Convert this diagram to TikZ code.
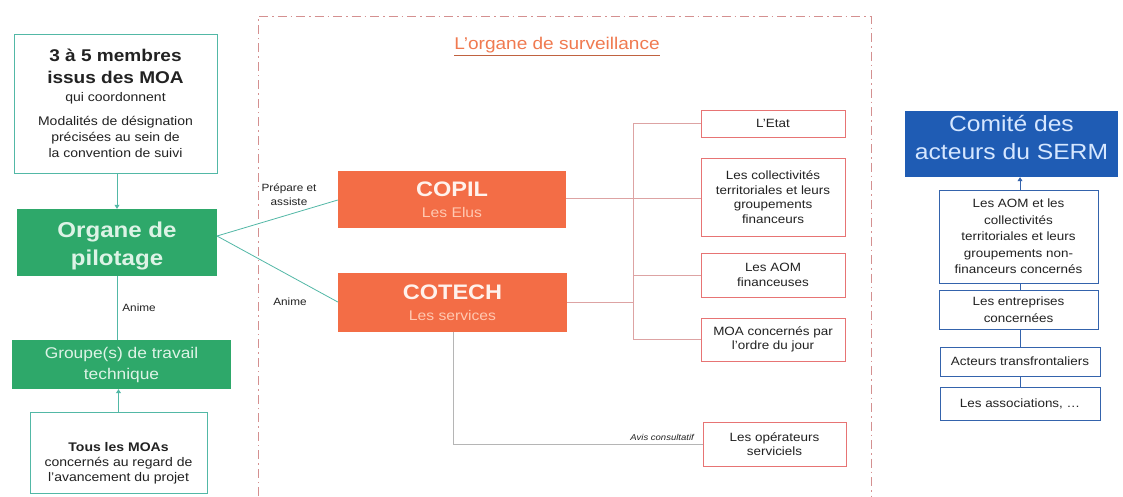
\documentclass[tikz,border=0pt]{standalone}
\usepackage{fontspec}
\setmainfont{Liberation Sans}[FakeStretch=1.12]
\usetikzlibrary{arrows.meta}
\definecolor{tealb}{HTML}{52B8A6}
\definecolor{greenf}{HTML}{2EA86A}
\definecolor{greent}{HTML}{DDF3E6}
\definecolor{orangef}{HTML}{F36D46}
\definecolor{oranget}{HTML}{FFF2EC}
\definecolor{orangel}{HTML}{FFC9B2}
\definecolor{pinkb}{HTML}{E77474}
\definecolor{pinkl}{HTML}{DDA3A3}
\definecolor{greyl}{HTML}{B5B5B5}
\definecolor{titlec}{HTML}{F07A50}
\definecolor{bluef}{HTML}{1F5CB4}
\definecolor{bluet}{HTML}{D6E7FF}
\definecolor{blueb}{HTML}{3463AC}
\definecolor{framec}{HTML}{D49090}
\definecolor{txt}{HTML}{222222}
\newcommand\fsz[2]{\fontsize{#1}{#2}\selectfont}
\begin{document}
\begin{tikzpicture}[x=1pt,y=-1pt,
  every node/.style={inner sep=0pt, align=center, text=txt},
  tealbox/.style={draw=tealb, line width=1pt, fill=white},
  greenbox/.style={fill=greenf, text=greent},
  orangebox/.style={fill=orangef, text=oranget},
  pinkbox/.style={draw=pinkb, line width=0.9pt, fill=white, font=\fsz{12}{14.5}},
  bluebox/.style={draw=blueb, line width=0.9pt, fill=white, font=\fsz{12}{16.5}},
  tealline/.style={draw=tealb, line width=0.8pt},
  pinkline/.style={draw=pinkl, line width=0.7pt},
  greyline/.style={draw=greyl, line width=0.7pt},
  blueline/.style={draw=blueb, line width=0.8pt},
  arrowtip/.style={-{Triangle[width=5pt,length=4pt]}},
  lbl/.style={font=\fsz{10.5}{14}}
]
\useasboundingbox (0,0) rectangle (1123,496);
\fill[white] (0,0) rectangle (1123,496);

% surveillance frame
\draw[framec, line width=0.8pt, dash pattern=on 9pt off 4pt on 1.5pt off 4pt]
  (258,496) -- (258,16) -- (871,16) -- (871,496);
\node[text=titlec, font=\fsz{17}{20}] (title) at (557,45) {L'organe de surveillance};
\draw[draw=titlec!80!black, line width=0.8pt] ([yshift=-2pt]title.south west) -- ([yshift=-2pt]title.south east);

% left column
\node[tealbox, minimum width=203pt, minimum height=139pt, font=\fsz{12.5}{16}] (b1) at (115.5,103.5)
  {\fsz{17}{21}\bfseries 3 à 5 membres\\[6pt]
   \fsz{17}{21}\bfseries issus des MOA\\[2pt]
   qui coordonnent\\[8pt]
   Modalités de désignation\\
   précisées au sein de\\
   la convention de suivi};
\node[greenbox, minimum width=200pt, minimum height=67pt, font=\fsz{21.5}{28}\bfseries] (org) at (117,242.5) {\rule{0pt}{23pt}Organe de\\ pilotage};
\node[greenbox, minimum width=219pt, minimum height=49pt, font=\fsz{15.5}{21}] (grp) at (121.5,364.5) {Groupe(s) de travail\\ technique};
\node[tealbox, minimum width=177pt, minimum height=81pt, font=\fsz{12.5}{15}] (tous) at (118.5,452.5)
  {\rule{0pt}{30pt}\bfseries Tous les MOAs\\ concernés au regard de\\ l'avancement du projet};

\draw[tealline, arrowtip] (org.north |- b1.south) -- (org.north);
\draw[tealline] (org.south) -- node[lbl, right=5pt] {Anime} (org.south |- grp.north);
\draw[tealline, arrowtip] (tous.north) -- (tous.north |- grp.south);

% COPIL / COTECH
\node[orangebox, minimum width=228pt, minimum height=57pt, font=\fsz{14}{21}] (copil) at (452,199.5)
  {\fsz{21}{24}\bfseries COPIL\\ \color{orangel}Les Elus};
\node[orangebox, minimum width=229pt, minimum height=59pt, font=\fsz{14}{21}] (cotech) at (452.5,302.5)
  {\fsz{21}{24}\bfseries COTECH\\ \color{orangel}Les services};

\coordinate (oe) at (217,236);
\draw[tealline] (oe) -- (copil.west |- 0,200);
\draw[tealline] (oe) -- (cotech.west |- 0,302);
\node[lbl] (lprep) at (289,195) {Prépare et\\ assiste};
\node[lbl] (lanime) at (290,302) {Anime};

% member boxes
\node[pinkbox, minimum width=144pt, minimum height=27pt] (etat) at (773,123.5) {L'Etat};
\node[pinkbox, minimum width=144pt, minimum height=78pt] (coll) at (773,197) {Les collectivités\\ territoriales et leurs\\ groupements\\ financeurs};
\node[pinkbox, minimum width=144pt, minimum height=44pt] (aom) at (773,275) {Les AOM\\ financeuses};
\node[pinkbox, minimum width=144pt, minimum height=43pt] (moa) at (773,339.5) {MOA concernés par\\ l'ordre du jour};
\node[pinkbox, minimum width=143pt, minimum height=44pt] (oper) at (774.5,444) {Les opérateurs\\ serviciels};

\coordinate (trunkt) at (633,123.5);
\coordinate (trunkb) at (633,339.5);
\draw[pinkline] (trunkt) -- (trunkb);
\draw[pinkline] (trunkt) -- (etat.west);
\draw[pinkline] (copil.east |- 0,198) -- (coll.west |- 0,198);
\draw[pinkline] (trunkb |- aom.west) -- (aom.west);
\draw[pinkline] (trunkb) -- (moa.west);
\draw[pinkline] (cotech.east |- 0,302) -- (trunkb |- 0,302);

\coordinate (cbend) at (453,444);
\draw[greyline] (cotech.south -| cbend) -- (cbend) -- (oper.west);
\node[font=\fsz{8.5}{10}\itshape, anchor=south east] (avis) at (694,441) {Avis consultatif};

% SERM committee
\node[fill=bluef, text=bluet, minimum width=213pt, minimum height=66pt, font=\fsz{22}{28}] (serm) at (1011.5,144) {Comité des\\ acteurs du SERM\rule[-13pt]{0pt}{0pt}};
\node[bluebox, minimum width=159pt, minimum height=93pt] (r1) at (1018.5,236.5) {Les AOM et les\\ collectivités\\ territoriales et leurs\\ groupements non-\\ financeurs concernés};
\node[bluebox, minimum width=159pt, minimum height=39pt] (r2) at (1018.5,309.5) {Les entreprises\\ concernées};
\node[bluebox, minimum width=160pt, minimum height=29pt] (r3) at (1020,361.5) {Acteurs transfrontaliers};
\node[bluebox, minimum width=160pt, minimum height=33pt] (r4) at (1020,403.5) {Les associations, \dots};

\coordinate (rx) at (1020,0);
\draw[blueline, arrowtip] (r1.north -| rx) -- (serm.south -| rx);
\draw[blueline] (r1.south -| rx) -- (r2.north -| rx);
\draw[blueline] (r2.south -| rx) -- (r3.north -| rx);
\draw[blueline] (r3.south -| rx) -- (r4.north -| rx);
\end{tikzpicture}
\end{document}
